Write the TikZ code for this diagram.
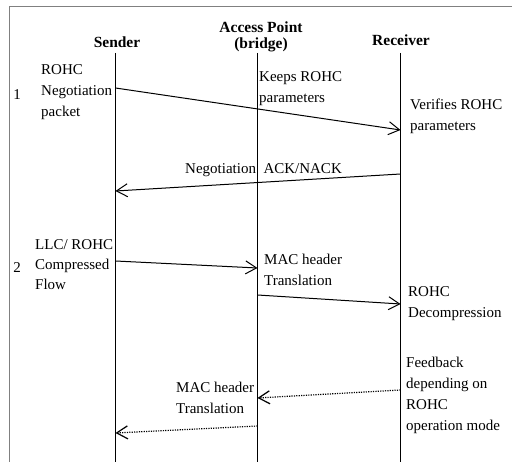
\documentclass[tikz,border=0pt]{standalone}
\usepackage{fontspec}
\setmainfont{Liberation Serif}
\usetikzlibrary{positioning,arrows.meta}

\begin{document}
\begin{tikzpicture}[x=1pt, y=-1pt, >={Straight Barb[length=11pt,width=13pt]},
  txt/.style={inner sep=0pt, align=left, anchor=west, font=\fontsize{15}{21}\selectfont},
  head/.style={inner sep=0pt, font=\fontsize{15.5}{17}\selectfont\bfseries},
  life/.style={line width=0.8pt},
  msg/.style={->, line width=1pt},
  fb/.style={->, line width=1.2pt, dash pattern=on 1.2pt off 1.2pt}]
\useasboundingbox (0,0) rectangle (512,462);
\draw[gray, line width=1.5pt] (9.5,462) -- (9.5,6.5) -- (512,6.5);

% headers
\node[head] (Snd) at (117,42) {Sender};
\node[head] (AP) at (261,27) {Access Point};
\node[head] (APb) at (261,45) {(bridge)};
\node[head] (Rcv) at (401,40) {Receiver};

% lifelines
\coordinate (S0) at (115.5,53);  \coordinate (Sx) at (115.5,462);
\coordinate (A0) at (257.5,53);  \coordinate (Ax) at (257.5,462);
\coordinate (R0) at (400.5,53);  \coordinate (Rx) at (400.5,462);
\draw[life] (S0) -- (Sx);
\draw[life] (A0) -- (Ax);
\draw[life] (R0) -- (Rx);

% message ends
\coordinate (S1) at (115.5,88);  \coordinate (R1) at (400.5,130);
\coordinate (R2) at (400.5,174); \coordinate (S2) at (115.5,191);
\coordinate (S3) at (115.5,261); \coordinate (A3) at (257.5,268);
\coordinate (A4) at (257.5,295); \coordinate (R4) at (400.5,304);
\coordinate (R5) at (400.5,390); \coordinate (A5) at (257.5,398);
\coordinate (A6) at (257.5,426); \coordinate (S6) at (115.5,433);

% step 1
\draw[msg] (S1) -- (R1);
\draw[msg] (R2) -- (S2);
% step 2
\draw[msg] (S3) -- (A3);
\draw[msg] (A4) -- (R4);
% feedback (dotted)
\draw[fb] (R5) -- (A5);
\draw[fb] (A6) -- (S6);

% labels
\node[txt, anchor=center] (n1) at (17,95) {1};
\node[txt] (negpkt) at (41,92) {ROHC\\Negotiation\\packet};
\node[txt] (keeps) at (259,88.5) {Keeps ROHC\\parameters};
\node[txt] (verif) at (410,116) {Verifies ROHC\\parameters};
\node[txt, anchor=center] (ack) at (263.5,170) {Negotiation\ \ ACK/NACK};
\node[txt, anchor=center] (n2) at (17,268) {2};
\node[txt, font=\fontsize{15}{20}\selectfont] (flow) at (35,265) {LLC/ ROHC\\Compressed\\Flow};
\node[txt] (mac1) at (264,270) {MAC header\\Translation};
\node[txt] (decomp) at (408,303.5) {ROHC\\Decompression};
\node[txt] (feedb) at (406,395) {Feedback\\depending on\\ROHC\\operation mode};
\node[txt] (mac2) at (176,397.5) {MAC header\\Translation};
\end{tikzpicture}
\end{document}
